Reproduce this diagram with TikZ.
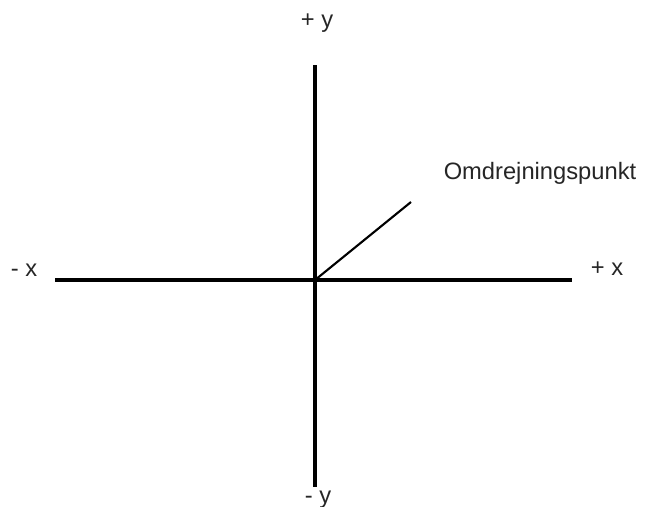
\documentclass[tikz,border=0pt]{standalone}
\usepackage{fontspec}
\setmainfont{Liberation Sans}
\begin{document}
\begin{tikzpicture}[
    x=0.02cm, y=-0.02cm,
    axis/.style={-, line width=1.9pt, black},
    pivot/.style={-, line width=1.2pt, black},
    lbl/.style={font=\fontsize{13.5}{16}\selectfont, text=black!85, inner sep=0pt}
  ]
    \useasboundingbox (0,0) rectangle (666,507);

    \coordinate (o)     at (315,280);
    \coordinate (xneg)  at (55,280);
    \coordinate (xpos)  at (572,280);
    \coordinate (ytop)  at (315,65);
    \coordinate (ybot)  at (315,487);
    \coordinate (arm)   at (411,202);

    \node[lbl] (lyp) at (317,23)  {+ y};
    \node[lbl] (lyn) at (318,500) {- y};
    \node[lbl] (lxn) at (24,270)  {- x};
    \node[lbl] (lxp) at (607,269) {+ x};
    \node[lbl] (piv) at (540,173) {Omdrejningspunkt};

    \draw[axis] (xneg) -- (xpos);
    \draw[axis] (ytop) -- (ybot);
    \draw[pivot] (o) -- (arm);
  \end{tikzpicture}
\end{document}
